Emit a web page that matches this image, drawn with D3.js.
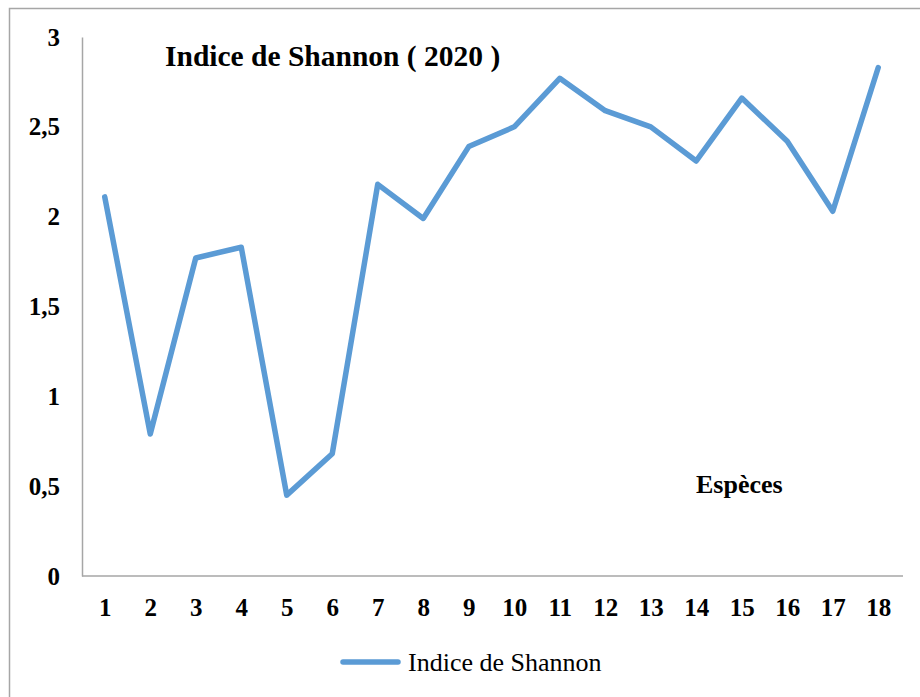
<!DOCTYPE html>
<html>
<head>
<meta charset="utf-8">
<script src="https://cdn.jsdelivr.net/npm/d3@7"></script>
<style>
  html, body { margin: 0; padding: 0; background: #fff; }
  svg { display: block; }
  svg text { font-family: "Liberation Serif", "Times New Roman", "DejaVu Serif", serif !important; }
</style>
</head>
<body>
<svg id="chart" width="920" height="697"></svg>
<script>
// Shannon diversity index per species, 2020
const especes = ["1","2","3","4","5","6","7","8","9","10","11","12","13","14","15","16","17","18"];
const shannon = [2.11, 0.79, 1.77, 1.83, 0.45, 0.68, 2.18, 1.99, 2.39, 2.5, 2.77, 2.59, 2.5, 2.31, 2.66, 2.42, 2.03, 2.83];
const yTicks = [0, 0.5, 1, 1.5, 2, 2.5, 3];
const yTickLabels = ["0", "0,5", "1", "1,5", "2", "2,5", "3"];
const titleText = "Indice de Shannon ( 2020 )";
const seriesName = "Indice de Shannon";
const xAxisName = "Espèces";

const svg = d3.select("#chart");
const lineColor = "#5b9bd5";
const axisColor = "#a6a6a6";

// outer chart frame
svg.append("rect")
  .attr("x", 9.5).attr("y", 8.5)
  .attr("width", 930).attr("height", 720)
  .attr("fill", "none").attr("stroke", axisColor).attr("stroke-width", 1.5);

const plot = { left: 82, right: 901, top: 37, bottom: 576 };

const x = d3.scalePoint().domain(especes)
  .range([plot.left, plot.right]).padding(0.5);
const y = d3.scaleLinear().domain([0, 3]).range([plot.bottom, plot.top]);

// y axis
const yAxis = d3.axisLeft(y).tickValues(yTicks)
  .tickFormat((d, i) => yTickLabels[i]).tickSize(0).tickPadding(22);
const gy = svg.append("g").attr("transform", `translate(${plot.left},0)`).call(yAxis);
gy.select(".domain").attr("stroke", axisColor).attr("stroke-width", 1.5);
gy.selectAll("text")
  .style("font-size", "25px").style("font-weight", "bold")
  .attr("fill", "#000").attr("dy", "0.32em");

// x axis
const xAxis = d3.axisBottom(x).tickSize(0).tickPadding(22);
const gx = svg.append("g").attr("transform", `translate(0,${plot.bottom})`).call(xAxis);
gx.select(".domain")
  .attr("d", `M${plot.left},0H${plot.right + 2}`)
  .attr("stroke", axisColor).attr("stroke-width", 1.5);
gx.selectAll("text")
  .style("font-size", "25px").style("font-weight", "bold")
  .attr("fill", "#000");

// series line
const line = d3.line()
  .x((d, i) => x(especes[i]))
  .y(d => y(d));
svg.append("path")
  .datum(shannon)
  .attr("d", line)
  .attr("fill", "none")
  .attr("stroke", lineColor)
  .attr("stroke-width", 5.5)
  .attr("stroke-linejoin", "round")
  .attr("stroke-linecap", "round");

// title
svg.append("text")
  .attr("x", 165).attr("y", 66)
  .style("font-size", "29.5px").style("font-weight", "bold")
  .attr("fill", "#000")
  .text(titleText);

// axis name
svg.append("text")
  .attr("x", 696).attr("y", 493)
  .style("font-size", "26px").style("font-weight", "bold")
  .attr("fill", "#000")
  .text(xAxisName);

// legend
const legend = svg.append("g").attr("transform", "translate(343,662)");
legend.append("line")
  .attr("x1", 0).attr("x2", 55).attr("y1", 0).attr("y2", 0)
  .attr("stroke", lineColor).attr("stroke-width", 5.5)
  .attr("stroke-linecap", "round");
legend.append("text")
  .attr("x", 65).attr("y", 0).attr("dy", "0.33em")
  .style("font-size", "26px")
  .attr("fill", "#000")
  .text(seriesName);
</script>
</body>
</html>
